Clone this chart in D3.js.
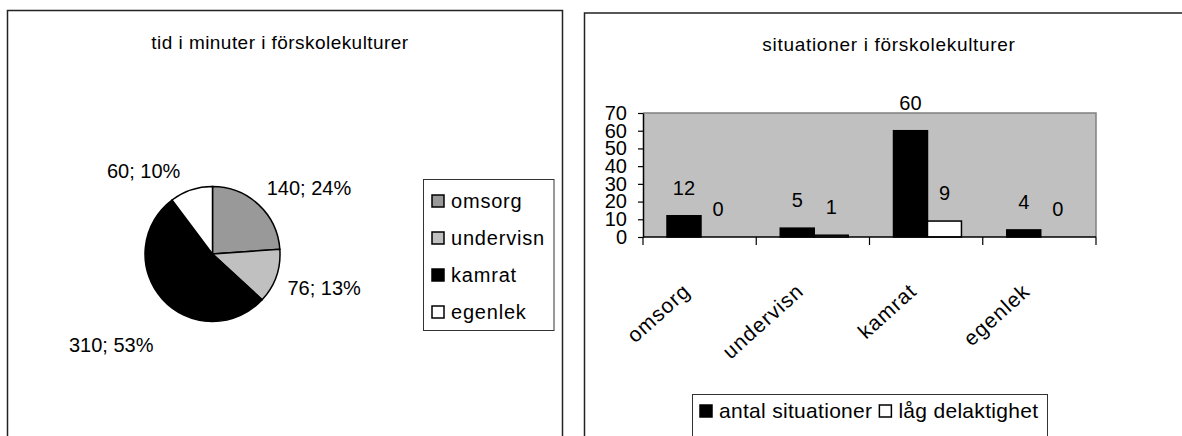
<!DOCTYPE html>
<html><head><meta charset="utf-8">
<script src="https://cdn.jsdelivr.net/npm/d3@7"></script>
<style>body{margin:0;background:#fff}svg{display:block;font-family:"Liberation Sans",Arial,sans-serif}</style>
</head><body><svg id="c" width="1182" height="436"></svg>
<script>
// ---- data ----
const pieCategories = ["omsorg", "undervisn", "kamrat", "egenlek"];
const pieValues = [140, 76, 310, 60];
const pieColors = ["#999999", "#c0c0c0", "#000000", "#ffffff"];
const pieTitle = "tid i minuter i förskolekulturer";

const barCategories = ["omsorg", "undervisn", "kamrat", "egenlek"];
const barSeries = ["antal situationer", "låg delaktighet"];
const antalSituationer = [12, 5, 60, 4];
const lagDelaktighet = [0, 1, 9, 0];
const barColors = ["#000000", "#ffffff"];
const yTicks = [0, 10, 20, 30, 40, 50, 60, 70];
const barTitle = "situationer i förskolekulturer";

const svg = d3.select("#c");
const FS = 20;

// ---- panels ----
svg.append("rect").attr("x", 7.5).attr("y", 10.5).attr("width", 555).attr("height", 500)
  .attr("fill", "#fff").attr("stroke", "#222").attr("stroke-width", 1.5);
svg.append("rect").attr("x", 584.5).attr("y", 13).attr("width", 700).attr("height", 500)
  .attr("fill", "#fff").attr("stroke", "#222").attr("stroke-width", 1.5);

// ---- pie chart ----
const pcx = 212.5, pcy = 254, pr = 67.5;
svg.append("text").attr("x", 280).attr("y", 42).attr("dy", "0.35em")
  .attr("text-anchor", "middle").attr("font-size", 19).attr("letter-spacing", 0.45).text(pieTitle);

const total = d3.sum(pieValues);
const pct = d3.format(".0%");
const pieData = pieCategories.map((c, i) => ({cat: c, value: pieValues[i], color: pieColors[i]}));
const arcs = d3.pie().value(d => d.value).sort(null)(pieData);
const arc = d3.arc().innerRadius(0).outerRadius(pr);
const pg = svg.append("g").attr("transform", `translate(${pcx},${pcy})`);
pg.selectAll("path").data(arcs).join("path")
  .attr("d", arc).attr("fill", d => d.data.color).attr("stroke", "#000").attr("stroke-width", 1.5);

const lr = pr + 12;
pg.selectAll("text").data(arcs).join("text")
  .attr("font-size", FS)
  .each(function(d) {
    const a = (d.startAngle + d.endAngle) / 2;
    const sx = Math.sin(a), cy = -Math.cos(a);
    // large slices push their label further out along the bisector
    const extra = (d.endAngle - d.startAngle) > Math.PI ? 30 : 0;
    const x = lr * sx, y = lr * cy + (cy < 0 ? -8 : 8 + extra);
    d3.select(this).attr("x", x - (sx < 0 && cy < 0 ? 7 : 0)).attr("y", y).attr("dy", "0.35em")
      .attr("text-anchor", sx >= 0 ? "start" : "end")
      .text(`${d.data.value}; ${pct(d.data.value / total)}`);
  });

// pie legend
const lg = svg.append("g");
lg.append("rect").attr("x", 423.5).attr("y", 179.5).attr("width", 130.5).attr("height", 151)
  .attr("fill", "#fff").attr("stroke", "#333").attr("stroke-width", 1);
const legY = d3.scalePoint().domain(pieCategories).range([201, 312]);
pieCategories.forEach((c, i) => {
  lg.append("rect").attr("x", 432).attr("y", legY(c) - 6).attr("width", 12).attr("height", 12)
    .attr("fill", pieColors[i]).attr("stroke", "#000").attr("stroke-width", 1.5);
  lg.append("text").attr("x", 451).attr("y", legY(c)).attr("dy", "0.35em")
    .attr("font-size", FS).attr("letter-spacing", 0.8).text(c);
});

// ---- bar chart ----
const px0 = 643, px1 = 1096, py0 = 237, py1 = 113;
svg.append("text").attr("x", 889).attr("y", 44).attr("dy", "0.35em")
  .attr("text-anchor", "middle").attr("font-size", 19).attr("letter-spacing", 0.7).text(barTitle);

const x = d3.scaleBand().domain(barCategories).range([px0, px1]).padding(0);
const bw = x.bandwidth();
const x1 = d3.scaleBand().domain(barSeries).range([bw * 0.212, bw * 0.212 + bw * 0.6]).padding(0);
const y = d3.scaleLinear().domain([0, 70]).range([py0, py1]);

svg.append("rect").attr("x", px0).attr("y", py1).attr("width", px1 - px0).attr("height", py0 - py1)
  .attr("fill", "#c0c0c0");
svg.append("path").attr("d", `M${px0},${py1}H${px1}V${py0}`).attr("fill", "none")
  .attr("stroke", "#808080").attr("stroke-width", 1.5);

const seriesVals = [antalSituationer, lagDelaktighet];
const groups = svg.append("g");
barCategories.forEach((c, ci) => {
  barSeries.forEach((s, si) => {
    const v = seriesVals[si][ci];
    const bx = x(c) + x1(s);
    if (v > 0) {
      groups.append("rect").attr("x", bx).attr("y", y(v)).attr("width", x1.bandwidth())
        .attr("height", y(0) - y(v)).attr("fill", barColors[si]).attr("stroke", "#000").attr("stroke-width", 1.5);
    }
    groups.append("text").attr("x", bx + x1.bandwidth() / 2).attr("y", y(v) - 28).attr("dy", "0.35em")
      .attr("text-anchor", "middle").attr("font-size", FS).text(v);
  });
});

// y axis
const yAxis = svg.append("g").attr("transform", `translate(${px0},0)`)
  .call(d3.axisLeft(y).tickValues(yTicks).tickSize(5).tickSizeOuter(0).tickPadding(11));
yAxis.select(".domain").attr("stroke", "#000").attr("stroke-width", 1.5);
yAxis.selectAll(".tick line").attr("stroke", "#000").attr("stroke-width", 1.2);
yAxis.selectAll("text").attr("font-size", FS).attr("font-family", '"Liberation Sans",Arial,sans-serif').attr("fill", "#000");

// x axis
const xg = svg.append("g");
xg.append("line").attr("x1", px0).attr("x2", px1).attr("y1", py0).attr("y2", py0)
  .attr("stroke", "#000").attr("stroke-width", 1.5);
const bounds = barCategories.map(c => x(c)).concat([px1]);
xg.selectAll(".tk").data(bounds).join("line").attr("class", "tk")
  .attr("x1", d => d).attr("x2", d => d).attr("y1", py0).attr("y2", py0 + 8)
  .attr("stroke", "#000").attr("stroke-width", 1.2);
xg.selectAll(".cl").data(barCategories).join("text").attr("class", "cl")
  .attr("font-size", 21).attr("letter-spacing", 1).attr("text-anchor", "end")
  .attr("transform", d => `translate(${x(d) + bw / 2 - 8},${py0 + 56}) rotate(-42)`)
  .text(d => d);

// bar legend
const bl = svg.append("g");
bl.append("rect").attr("x", 692.5).attr("y", 394.5).attr("width", 355).attr("height", 80)
  .attr("fill", "#fff").attr("stroke", "#333").attr("stroke-width", 1);
let lx = 700;
barSeries.forEach((s, i) => {
  bl.append("rect").attr("x", lx).attr("y", 405).attr("width", 12).attr("height", 12)
    .attr("fill", barColors[i]).attr("stroke", "#000").attr("stroke-width", 1.5);
  const t = bl.append("text").attr("x", lx + 19).attr("y", 411).attr("dy", "0.35em")
    .attr("font-size", 21).attr("letter-spacing", 0.3).text(s);
  lx = lx + 19 + t.node().getComputedTextLength() + 7;
});
</script></body></html>
